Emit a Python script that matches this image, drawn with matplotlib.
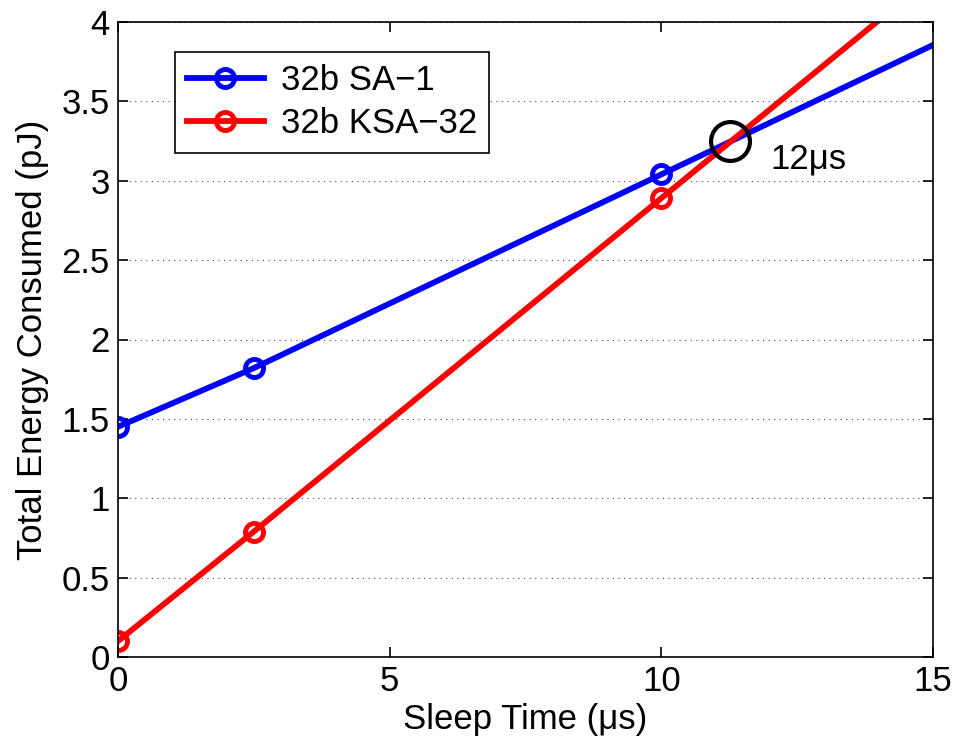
import numpy as np
from matplotlib import pyplot as plt

plt.rcParams['font.family'] = ['Liberation Sans', 'DejaVu Sans']

# data
sleep_time = [0, 2.5, 10, 15]
sa1 = [1.45, 1.82, 3.04, 3.855]
ksa32 = [0.10, 0.79, 2.89, 4.29]
cross_x, cross_y = 11.26, 3.25

fs = 25

fig = plt.figure(figsize=(9.56, 7.42), dpi=100)
ax = fig.add_axes([118 / 956, 1 - 657 / 742, (933 - 118) / 956, (657 - 22) / 742])

ax.plot(sleep_time, sa1, color='blue', lw=4.2, marker='o', ms=13, mew=3.5,
        mfc='none', markevery=[0, 1, 2], label='32b SA\u22121')
ax.plot(sleep_time, ksa32, color='red', lw=4.2, marker='o', ms=13, mew=3.5,
        mfc='none', markevery=[0, 1, 2], label='32b KSA\u221232')

# crossover marker
ax.plot([cross_x], [cross_y], marker='o', ms=28, mew=3, mfc='none', color='black')
ax.text(12.0, 3.14, '12\u03bcs', fontsize=fs, va='center', ha='left')

ax.set_xlim(0, 15)
ax.set_ylim(0, 4)
ax.set_xticks([0, 5, 10, 15])
ax.set_yticks(np.arange(0, 4.01, 0.5))
ax.set_yticklabels(['0', '0.5', '1', '1.5', '2', '2.5', '3', '3.5', '4'])
ax.yaxis.grid(True, linestyle=(0, (1, 4)), color='0.3', lw=0.8)
ax.tick_params(direction='in', labelsize=fs, length=7, width=1.2, top=True, right=True, pad=6)
for s in ax.spines.values():
    s.set_linewidth(1.2)

ax.set_xlabel('Sleep Time (\u03bcs)', fontsize=fs, labelpad=3)
ax.set_ylabel('Total Energy Consumed (pJ)', fontsize=fs, labelpad=9)

leg = ax.legend(loc='upper left', bbox_to_anchor=(0.07, 0.953), borderaxespad=0,
                fontsize=fs, fancybox=False, edgecolor='black', framealpha=1,
                handlelength=2.2, handletextpad=0.5, borderpad=0.35, labelspacing=0.3)
leg.get_frame().set_linewidth(1.2)

fig.savefig('out.png', dpi=100)
